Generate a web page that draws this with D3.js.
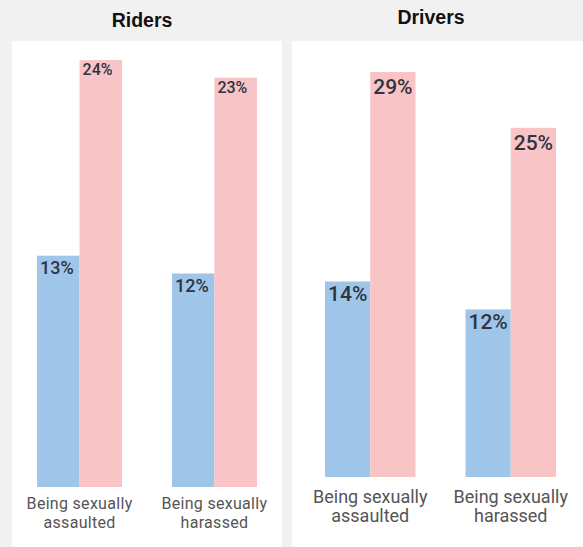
<!DOCTYPE html>
<html>
<head>
<meta charset="utf-8">
<script src="https://cdn.jsdelivr.net/npm/d3@7"></script>
<style>
  html, body { margin: 0; padding: 0; background: #f1f1f1; }
  svg { display: block; }
</style>
</head>
<body>
<svg id="chart" width="583" height="547"></svg>
<script>
// Survey results: share reporting each incident, by group
const categories = ["Being sexually assaulted", "Being sexually harassed"];
const categoryLines = [["Being sexually", "assaulted"], ["Being sexually", "harassed"]];
const series = ["blue", "pink"];
const ridersBlue = [13, 12];
const ridersPink = [24, 23];
const driversBlue = [14, 12];
const driversPink = [29, 25];
const panelTitles = ["Riders", "Drivers"];

const colors = { blue: "#9fc6e9", pink: "#f8c4c6" };

const svg = d3.select("#chart");

const panels = [
  {
    title: panelTitles[0], values: [ridersBlue, ridersPink],
    x0: 12, x1: 282, bgTop: 41, base: 487, top: 60,
    padInner: 0.37, padOuter: 0.186, titleX: 142, titleY: 27,
    labelSize: [18, 16], labelDy: [18, 15],
    catSize: 16, catSpacing: 0.3, catY: 509, catLine: 19
  },
  {
    title: panelTitles[1], values: [driversBlue, driversPink],
    x0: 292, x1: 589, bgTop: 41, base: 477, top: 72,
    padInner: 0.356, padOuter: 0.235, titleX: 431, titleY: 24,
    labelSize: [21, 21], labelDy: [20, 22],
    catSize: 18, catSpacing: 0, catY: 503, catLine: 19
  }
];

panels.forEach(p => {
  const g = svg.append("g");

  // white card behind each panel
  g.append("rect")
    .attr("x", p.x0).attr("y", p.bgTop)
    .attr("width", Math.min(p.x1, 583) - p.x0).attr("height", 547 - p.bgTop)
    .attr("fill", "#ffffff");

  g.append("text")
    .attr("x", p.titleX).attr("y", p.titleY)
    .attr("text-anchor", "middle")
    .attr("font-family", "Liberation Sans, Arial, sans-serif")
    .attr("font-weight", "bold")
    .attr("font-size", 19.5)
    .attr("fill", "#111")
    .text(p.title);

  const x = d3.scaleBand()
    .domain(categories)
    .range([p.x0, p.x1])
    .paddingInner(p.padInner)
    .paddingOuter(p.padOuter);

  const xs = d3.scaleBand()
    .domain(series)
    .range([0, x.bandwidth()])
    .padding(0);

  const maxVal = d3.max(p.values.flat());
  const y = d3.scaleLinear().domain([0, maxVal]).range([p.base, p.top]);

  const rows = [];
  categories.forEach((c, i) => {
    series.forEach((s, j) => {
      rows.push({ cat: c, s, j, v: p.values[j][i] });
    });
  });

  const bars = g.selectAll(".bar").data(rows).enter().append("g");

  bars.append("rect")
    .attr("x", d => x(d.cat) + xs(d.s))
    .attr("y", d => y(d.v))
    .attr("width", xs.bandwidth())
    .attr("height", d => y(0) - y(d.v))
    .attr("fill", d => colors[d.s]);

  bars.append("text")
    .attr("x", d => x(d.cat) + xs(d.s) + 3)
    .attr("y", d => y(d.v) + p.labelDy[d.j])
    .attr("font-family", "Roboto, sans-serif")
    .attr("font-weight", 500)
    .attr("font-size", d => p.labelSize[d.j])
    .attr("fill", "#2e3440")
    .text(d => d.v + "%");

  // category labels under each group
  categories.forEach((c, i) => {
    const t = g.append("text")
      .attr("x", x(c) + x.bandwidth() / 2)
      .attr("y", p.catY)
      .attr("text-anchor", "middle")
      .attr("font-family", "Roboto, sans-serif")
      .attr("font-size", p.catSize)
      .attr("letter-spacing", p.catSpacing)
      .attr("fill", "#555");
    categoryLines[i].forEach((line, k) => {
      t.append("tspan")
        .attr("x", x(c) + x.bandwidth() / 2)
        .attr("dy", k === 0 ? 0 : p.catLine)
        .text(line);
    });
  });
});
</script>
</body>
</html>
